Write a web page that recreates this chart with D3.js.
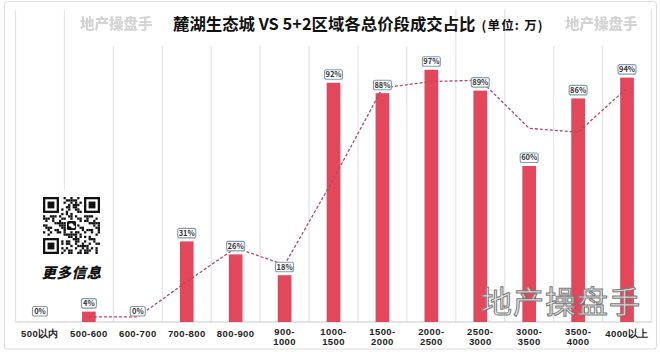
<!DOCTYPE html>
<html>
<head>
<meta charset="utf-8">
<script src="https://cdn.jsdelivr.net/npm/d3@7"></script>
<style>
  body { margin: 0; background: #fff; }
  svg { display: block; font-family: "Noto Sans CJK SC", "Noto Sans", sans-serif; }
</style>
</head>
<body>
<svg width="660" height="352"></svg>
<script>
// categories (price bands, 万)
var categories = ["500以内", "500-600", "600-700", "700-800", "800-900", "900-\n1000", "1000-\n1500",
  "1500-\n2000", "2000-\n2500", "2500-\n3000", "3000-\n3500", "3500-\n4000", "4000以上"];
// share of 麓湖 in each band, %
var values = [0, 4, 0, 31, 26, 18, 92, 88, 97, 89, 60, 86, 94];
// dashed trend line (2-period moving average as shown)
var trend = [null, 2, 2, 15.5, 28.5, 22, 55, 90, 92.5, 93, 74.5, 73, 90];

var width = 660, height = 352;
var plotLeft = 15.5, plotRight = 651.5, plotTop = 62, base = 322;
var barColor = "#e2475c";

var svg = d3.select("svg");

var defs = svg.append("defs");
defs.append("filter").attr("id", "soft")
  .append("feGaussianBlur").attr("stdDeviation", 0.7);

var x = d3.scaleBand()
  .domain(categories)
  .range([plotLeft, plotRight])
  .paddingInner(0.72)
  .paddingOuter(0.36);

var y = d3.scaleLinear().domain([0, 100]).range([base, plotTop]);

// outer frame
svg.append("rect")
  .attr("x", 4.5).attr("y", 1.5)
  .attr("width", 652).attr("height", 347.5)
  .attr("rx", 3)
  .attr("fill", "#fff")
  .attr("stroke", "#dcdcdc");

// vertical grid lines on band borders
var gap = (x.step() - x.bandwidth()) / 2;
var borders = categories.map(function(c) { return x(c) - gap; }).concat([plotRight]);
svg.append("g").selectAll("line")
  .data(borders)
  .enter()
  .append("line")
  .attr("x1", function(d) { return d; })
  .attr("x2", function(d) { return d; })
  .attr("y1", 10)
  .attr("y2", base)
  .attr("stroke", "#e3e3e3")
  .attr("stroke-width", 1.2);

// white areas behind title band and QR image
svg.append("rect").attr("x", 67).attr("y", 8).attr("width", 386).attr("height", 38).attr("fill", "#fff");
svg.append("rect").attr("x", 507).attr("y", 8).attr("width", 143).attr("height", 38).attr("fill", "#fff");
svg.append("rect").attr("x", 22).attr("y", 190).attr("width", 88).attr("height", 131).attr("fill", "#fff");

// x axis
var axis = svg.append("g")
  .attr("transform", "translate(0," + base + ")")
  .call(d3.axisBottom(x).tickSize(0).tickPadding(0));
axis.select(".domain").attr("stroke", "#c8c8c8").attr("stroke-width", 1.2)
  .attr("d", "M" + plotLeft + ",0H" + plotRight);
axis.selectAll(".tick text").each(function(d) {
  var t = d3.select(this);
  var lines = d.split("\n");
  t.text(null)
    .attr("font-size", 9.5)
    .attr("font-weight", 700)
    .attr("fill", "#222")
    .attr("letter-spacing", 0.4)
    .attr("dy", null)
    .attr("y", lines.length > 1 ? 13 : 14.5);
  lines.forEach(function(s, i) {
    t.append("tspan").attr("x", 0).attr("dy", i === 0 ? 0 : 9.5).text(s);
  });
});

// bars
svg.append("g").selectAll("rect")
  .data(values)
  .enter()
  .append("rect")
  .attr("x", function(d, i) { return x(categories[i]); })
  .attr("y", function(d) { return y(d); })
  .attr("width", x.bandwidth())
  .attr("height", function(d) { return base - y(d); })
  .attr("fill", barColor);

// trend line
var line = d3.line()
  .defined(function(d) { return d != null; })
  .x(function(d, i) { return x(categories[i]) + x.bandwidth() / 2; })
  .y(function(d) { return y(d); });
svg.append("path")
  .datum(trend)
  .attr("d", line)
  .attr("fill", "none")
  .attr("stroke", "#b24a63")
  .attr("stroke-width", 1.3)
  .attr("stroke-dasharray", "3,2");

// value labels
var labels = svg.append("g").selectAll("g")
  .data(values)
  .enter()
  .append("g")
  .attr("transform", function(d, i) {
    var cx = x(categories[i]) + x.bandwidth() / 2;
    var by = d === 0 ? y(d) - 6 : y(d) - 3.5;
    return "translate(" + cx + "," + by + ")";
  });
labels.append("rect")
  .attr("x", function(d) { return d < 10 ? -7.5 : -9; })
  .attr("y", -9.5)
  .attr("width", function(d) { return d < 10 ? 15 : 18; })
  .attr("height", 9.5)
  .attr("rx", 2)
  .attr("fill", "#fff")
  .attr("stroke", "#7f9cb2")
  .attr("stroke-width", 1.1);
labels.append("text")
  .text(function(d) { return d + "%"; })
  .attr("y", -2.2)
  .attr("text-anchor", "middle")
  .attr("font-size", 7.5)
  .attr("font-weight", 700)
  .attr("fill", "#333");

// title
var title = svg.append("text")
  .attr("x", 173)
  .attr("y", 30)
  .attr("font-weight", 700)
  .attr("fill", "#111");
title.append("tspan").attr("font-size", 16.4).text("麓湖生态城 VS 5+2区域各总价段成交占比");
title.append("tspan").attr("font-size", 12.5).attr("dx", 6).attr("letter-spacing", 1.2).text("(单位: 万)");

// watermarks
[[80, 29], [565, 29]].forEach(function(p) {
  svg.append("text")
    .attr("x", p[0]).attr("y", p[1])
    .attr("font-size", 14.5)
    .attr("font-weight", 900)
    .attr("fill", "#d4d4d4")
    .attr("filter", "url(#soft)")
    .text("地产操盘手");
});
svg.append("text")
  .attr("x", 481).attr("y", 313)
  .attr("font-size", 31)
  .attr("fill", "#e8e8e8")
  .attr("fill-opacity", 0.88)
  .attr("stroke", "#7a7a7a")
  .attr("stroke-width", 1)
  .attr("letter-spacing", 1)
  .text("地产操盘手");

// QR code block
var qr = svg.append("g").attr("transform", "translate(43,197)");
var n = 25, cell = 57 / n;
function finder(r, c) {
  qr.append("rect").attr("x", c * cell).attr("y", r * cell).attr("width", 7 * cell).attr("height", 7 * cell).attr("fill", "#111");
  qr.append("rect").attr("x", (c + 1) * cell).attr("y", (r + 1) * cell).attr("width", 5 * cell).attr("height", 5 * cell).attr("fill", "#fff");
  qr.append("rect").attr("x", (c + 2) * cell).attr("y", (r + 2) * cell).attr("width", 3 * cell).attr("height", 3 * cell).attr("fill", "#111");
}
var mods = [];
for (var r = 0; r < n; r++) {
  for (var c = 0; c < n; c++) {
    var inFinder = (r < 8 && c < 8) || (r < 8 && c > n - 9) || (r > n - 9 && c < 8);
    var inLogo = r > 9 && r < 15 && c > 9 && c < 15;
    if (!inFinder && !inLogo && ((r * 7 + c * 11 + (r * c) % 5) % 3 === 0 || (r + c * 3) % 7 === 1)) mods.push([r, c]);
  }
}
qr.selectAll(".m").data(mods).enter().append("rect")
  .attr("class", "m")
  .attr("x", function(d) { return d[1] * cell; })
  .attr("y", function(d) { return d[0] * cell; })
  .attr("width", cell).attr("height", cell)
  .attr("fill", "#111");
finder(0, 0); finder(0, n - 7); finder(n - 7, 0);
qr.append("rect").attr("x", 10.5 * cell).attr("y", 10.5 * cell).attr("width", 4 * cell).attr("height", 4 * cell).attr("rx", 1.5).attr("fill", "#111");
qr.append("ellipse").attr("cx", 12.3 * cell).attr("cy", 12.3 * cell).attr("rx", 2.4).attr("ry", 1.8).attr("fill", "#fff");
qr.append("ellipse").attr("cx", 13.2 * cell).attr("cy", 13 * cell).attr("rx", 2).attr("ry", 1.5).attr("fill", "#fff");

svg.append("text")
  .attr("x", 71.5).attr("y", 278)
  .attr("text-anchor", "middle")
  .attr("font-size", 14.5)
  .attr("font-weight", 900)
  .attr("font-style", "italic")
  .attr("letter-spacing", 0.5)
  .attr("fill", "#111")
  .text("更多信息");
</script>
</body>
</html>
